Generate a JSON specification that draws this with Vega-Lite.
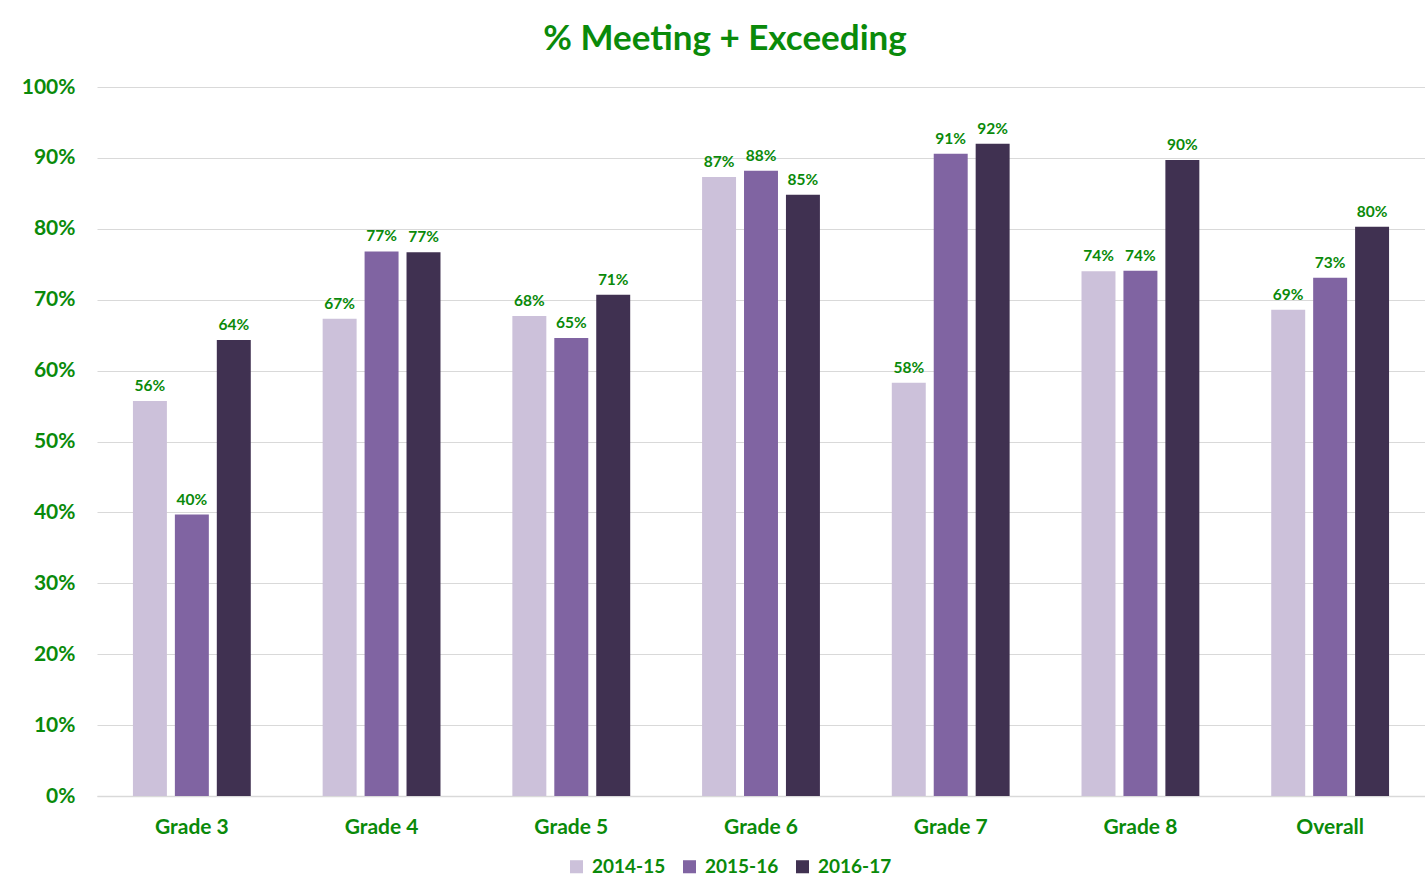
{
  "$schema": "https://vega.github.io/schema/vega-lite/v6.json",
  "width": 1328,
  "height": 709,
  "autosize": {"type": "none"},
  "padding": {"left": 97, "top": 87, "right": 0, "bottom": 94},
  "background": "white",
  "config": {
    "font": "Lato",
    "view": {"stroke": null},
    "axis": {"labelColor": "#0A8A0A", "labelFont": "Lato", "labelFontWeight": "bold"}
  },
  "title": {
    "text": "% Meeting + Exceeding",
    "font": "Lato",
    "fontSize": 35,
    "fontWeight": "bold",
    "color": "#0A8A0A",
    "anchor": "middle",
    "dx": -36,
    "offset": 19
  },
  "data": {
    "values": [
      {"grade": "Grade 3", "year": "2014-15", "value": 0.557},
      {"grade": "Grade 3", "year": "2015-16", "value": 0.397},
      {"grade": "Grade 3", "year": "2016-17", "value": 0.643},
      {"grade": "Grade 4", "year": "2014-15", "value": 0.673},
      {"grade": "Grade 4", "year": "2015-16", "value": 0.768},
      {"grade": "Grade 4", "year": "2016-17", "value": 0.767},
      {"grade": "Grade 5", "year": "2014-15", "value": 0.677},
      {"grade": "Grade 5", "year": "2015-16", "value": 0.646},
      {"grade": "Grade 5", "year": "2016-17", "value": 0.707},
      {"grade": "Grade 6", "year": "2014-15", "value": 0.873},
      {"grade": "Grade 6", "year": "2015-16", "value": 0.882},
      {"grade": "Grade 6", "year": "2016-17", "value": 0.848},
      {"grade": "Grade 7", "year": "2014-15", "value": 0.583},
      {"grade": "Grade 7", "year": "2015-16", "value": 0.906},
      {"grade": "Grade 7", "year": "2016-17", "value": 0.92},
      {"grade": "Grade 8", "year": "2014-15", "value": 0.74},
      {"grade": "Grade 8", "year": "2015-16", "value": 0.741},
      {"grade": "Grade 8", "year": "2016-17", "value": 0.897},
      {"grade": "Overall", "year": "2014-15", "value": 0.686},
      {"grade": "Overall", "year": "2015-16", "value": 0.731},
      {"grade": "Overall", "year": "2016-17", "value": 0.803}
    ]
  },
  "encoding": {
    "x": {
      "field": "grade",
      "type": "nominal",
      "sort": null,
      "scale": {"paddingInner": 0, "paddingOuter": 0},
      "axis": {
        "title": null,
        "labelAngle": 0,
        "labelFontSize": 21,
        "labelPadding": 20,
        "ticks": false,
        "domain": true,
        "domainColor": "#D9D9D9",
        "domainWidth": 1.5,
        "grid": false
      }
    },
    "xOffset": {
      "field": "year",
      "type": "nominal",
      "scale": {"paddingInner": 0.19, "paddingOuter": 0.857}
    },
    "y": {
      "field": "value",
      "type": "quantitative",
      "scale": {"domain": [0, 1], "nice": false},
      "axis": {
        "title": null,
        "format": ".0%",
        "values": [0, 0.1, 0.2, 0.3, 0.4, 0.5, 0.6, 0.7, 0.8, 0.9, 1],
        "labelFontSize": 21,
        "labelPadding": 22,
        "ticks": false,
        "domain": false,
        "gridColor": "#D9D9D9",
        "gridWidth": 1.2
      }
    }
  },
  "layer": [
    {
      "mark": {"type": "bar"},
      "encoding": {
        "color": {
          "field": "year",
          "type": "nominal",
          "scale": {"domain": ["2014-15", "2015-16", "2016-17"], "range": ["#CCC1DA", "#8064A2", "#403151"]},
          "legend": {
            "title": null,
            "orient": "none",
            "direction": "horizontal",
            "legendX": 470,
            "legendY": 770,
            "symbolType": "square",
            "symbolSize": 170,
            "symbolStrokeWidth": 0,
            "labelFont": "Lato",
            "labelFontSize": 19,
            "labelFontWeight": "bold",
            "labelColor": "#0A8A0A",
            "columnPadding": 14,
            "labelOffset": 6
          }
        }
      }
    },
    {
      "mark": {"type": "text", "baseline": "bottom", "dy": -7, "font": "Lato", "fontSize": 15.5, "fontWeight": "bold", "color": "#0A8A0A"},
      "encoding": {
        "text": {"field": "value", "type": "quantitative", "format": ".0%"}
      }
    }
  ]
}
